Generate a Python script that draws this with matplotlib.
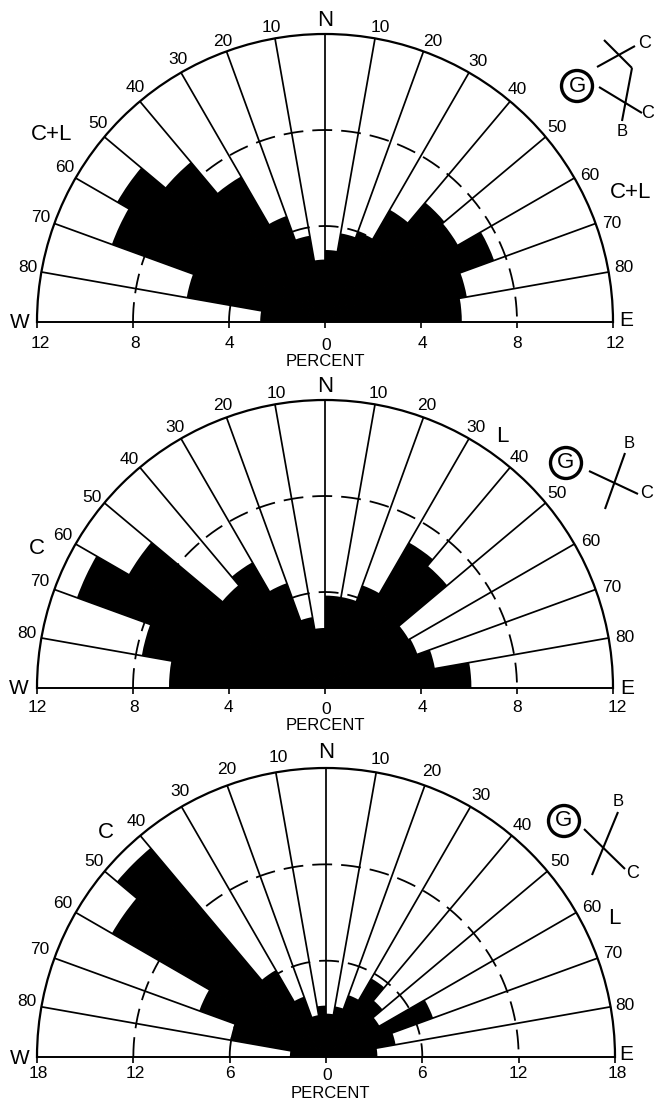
import numpy as np
import matplotlib
matplotlib.use("Agg")
import matplotlib.pyplot as plt
from matplotlib.patches import Circle

W, H = 654, 1101
FONT = "Liberation Sans"

# ---- data: percent per 10-degree bin, from W (-85) through N to E (+85)
bin_centres = [-85, -75, -65, -55, -45, -35, -25, -15, -5, 5, 15, 25, 35, 45, 55, 65, 75, 85]
values_top = [2.7, 5.85, 9.45, 10.0, 8.7, 7.0, 4.7, 3.65, 2.6,
              3.0, 3.75, 4.0, 5.4, 6.5, 6.4, 7.5, 6.0, 5.7]
values_mid = [6.5, 7.75, 11.0, 9.45, 5.6, 6.05, 4.65, 3.0, 2.5,
              3.85, 3.85, 4.55, 7.0, 6.65, 4.0, 4.1, 4.65, 6.1]
values_bot = [2.25, 6.05, 8.4, 15.4, 17.0, 6.25, 4.0, 2.65, 3.2,
              2.7, 3.2, 4.1, 5.65, 4.6, 3.85, 7.1, 4.4, 3.2]
angle_lines = [-80, -70, -60, -50, -40, -30, -20, -10, 0, 10, 20, 30, 40, 50, 60, 70, 80]
angle_labels = ["80", "70", "60", "50", "40", "30", "20", "10",
                "10", "20", "30", "40", "50", "60", "70", "80"]
scale_top = [12, 8, 4, 0, 4, 8, 12]
scale_bot = [18, 12, 6, 0, 6, 12, 18]

panels = [
    dict(values=values_top, rmax=12, rings=[4, 8], scale=scale_top, cx=325, base=322, R=288,
         angle_xy=[(28, 267), (41, 217), (65, 168), (98, 124), (135, 88), (178, 60), (223, 41), (271, 27),
                   (380, 27), (433, 41), (478, 62), (517, 89), (557, 128), (590, 175), (612, 223), (624, 268)],
         scale_xy=[(40, 344), (135, 344), (229, 344), (326, 345), (422, 344), (517, 343), (615, 343)],
         percent=(325, 362), n=(325, 21), w=(20, 322), e=(626, 321),
         notes=[("C+L", 52, 134), ("C+L", 631, 193)]),
    dict(values=values_mid, rmax=12, rings=[4, 8], scale=scale_top, cx=325, base=688, R=288,
         angle_xy=[(27, 634), (40, 582), (63, 536), (92, 497), (129, 459), (175, 428), (223, 406), (276, 393),
                   (378, 393), (427, 405), (476, 427), (519, 458), (557, 494), (591, 542), (612, 588), (625, 638)],
         scale_xy=[(37, 708), (134, 708), (228, 708), (326, 709), (422, 707), (517, 707), (617, 708)],
         percent=(325, 726), n=(325, 387), w=(19, 689), e=(627, 688),
         notes=[("C", 37, 549), ("L", 502, 436)]),
    dict(values=values_bot, rmax=18, rings=[6, 12], scale=scale_bot, cx=326, base=1057, R=289,
         angle_xy=[(27, 1001), (40, 949), (63, 903), (94, 861), (136, 821), (180, 792), (227, 770), (278, 758),
                   (380, 759), (432, 772), (481, 795), (522, 826), (560, 862), (592, 908), (613, 954), (625, 1005)],
         scale_xy=[(38, 1074), (135, 1074), (230, 1074), (327, 1075), (422, 1074), (518, 1073), (617, 1073)],
         percent=(330, 1093), n=(326, 753), w=(20, 1059), e=(626, 1055),
         notes=[("C", 106, 832), ("L", 614, 918)]),
]

# inset sketches: circled G, with fault/bedding symbols and labels
insets = [
    dict(g=(577, 86),
         lines=[((597, 67), (635, 46)), ((604, 40), (632, 68)), ((632, 68), (622, 121)), ((599, 87), (642, 113))],
         labels=[("C", 645, 43), ("C", 648, 113), ("B", 622, 132)]),
    dict(g=(566, 463),
         lines=[((589, 471), (638, 494)), ((625, 453), (605, 509))],
         labels=[("B", 629, 444), ("C", 647, 494)]),
    dict(g=(564, 821),
         lines=[((584, 829), (625, 869)), ((618, 812), (592, 875))],
         labels=[("B", 618, 802), ("C", 633, 874)]),
]

fig = plt.figure(figsize=(W / 100, H / 100), dpi=100, facecolor="white")
over = fig.add_axes([0, 0, 1, 1], zorder=10)
over.set_xlim(0, W)
over.set_ylim(H, 0)
over.axis("off")
over.patch.set_alpha(0)


def label(x, y, s, size):
    over.text(x, y, s, fontsize=size, family=FONT, ha="center", va="center", color="black")


for p in panels:
    cx, base, R, rmax = p["cx"], p["base"], p["R"], p["rmax"]
    # a half-circle wedge is centred inside a square box, so the box is 2R square
    ax = fig.add_axes([(cx - R) / W, 1 - (base + R / 2) / H, 2 * R / W, 2 * R / H], projection="polar")
    ax.set_theta_zero_location("N")
    ax.set_theta_direction(-1)
    ax.set_thetamin(-90)
    ax.set_thetamax(90)
    ax.set_rlim(0, rmax)
    ax.set_xticks([])
    ax.set_yticks([])
    ax.grid(False)
    ax.patch.set_alpha(0)
    for name, sp in ax.spines.items():
        if name == "inner":
            sp.set_visible(False)
        elif name == "polar":
            sp.set_linewidth(1.6)
        else:
            sp.set_linewidth(1.4)

    tt = np.radians(np.linspace(-90, 90, 361))
    for r in p["rings"]:
        ax.plot(tt, np.full_like(tt, r), color="black", lw=1.3,
                linestyle=(0, (11, 5)), zorder=2)
    for a in angle_lines:
        ax.plot([np.radians(a)] * 2, [0, rmax], color="black", lw=1.25, zorder=3)
    ax.bar(np.radians(bin_centres), p["values"], width=np.radians(10), bottom=0,
           color="black", linewidth=0, zorder=4)

    for s, (x, y) in zip(angle_labels, p["angle_xy"]):
        label(x, y, s, 12.5)
    for v, (x, y) in zip(p["scale"], p["scale_xy"]):
        label(x, y, str(v), 12.5)
    label(*p["percent"], "PERCENT", 12)
    label(*p["n"], "N", 16)
    label(*p["w"], "W", 15)
    label(*p["e"], "E", 15)
    for s, x, y in p["notes"]:
        label(x, y, s, 16)

    # short scale ticks below the base line
    step = R / rmax
    for i, v in enumerate(p["scale"]):
        side = -1 if i < 3 else 1
        xv = cx + side * v * step
        over.plot([xv, xv], [base, base + 6], color="black", lw=1.2, solid_capstyle="butt")

for ins in insets:
    gx, gy = ins["g"]
    over.add_patch(Circle((gx, gy), 15.5, fill=False, ec="black", lw=2.4))
    label(gx, gy, "G", 16)
    for (x0, y0), (x1, y1) in ins["lines"]:
        over.plot([x0, x1], [y0, y1], color="black", lw=1.5, solid_capstyle="butt")
    for s, x, y in ins["labels"]:
        label(x, y, s, 13 if s == "C" else 12)

fig.savefig("out.png", dpi=100)
